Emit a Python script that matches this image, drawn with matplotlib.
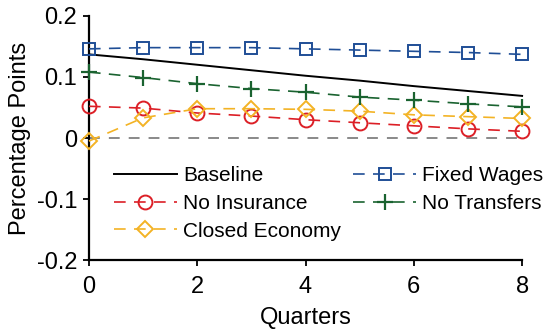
import matplotlib
matplotlib.use("Agg")
import matplotlib.pyplot as plt

plt.rcParams['font.family'] = ['Liberation Sans', 'DejaVu Sans']

quarters = [0, 1, 2, 3, 4, 5, 6, 7, 8]
baseline = [0.137, 0.129, 0.120, 0.111, 0.102, 0.094, 0.085, 0.077, 0.069]
fixed_wages = [0.146, 0.148, 0.148, 0.148, 0.146, 0.144, 0.142, 0.140, 0.137]
no_insurance = [0.052, 0.049, 0.041, 0.036, 0.030, 0.025, 0.020, 0.015, 0.011]
no_transfers = [0.108, 0.099, 0.089, 0.081, 0.075, 0.067, 0.062, 0.056, 0.051]
closed_economy = [-0.005, 0.033, 0.048, 0.048, 0.047, 0.044, 0.038, 0.035, 0.032]

x_ticks = [0, 2, 4, 6, 8]
y_ticks = [-0.2, -0.1, 0, 0.1, 0.2]
y_ticklabels = ['-0.2', '-0.1', '0', '0.1', '0.2']

c_blue = '#1f4e96'
c_red = '#dc1f26'
c_green = '#1a6330'
c_yellow = '#f3b325'

fig = plt.figure(figsize=(5.49, 3.31), dpi=100)
ax = fig.add_axes([0.162, 0.214, 0.789, 0.738])

dash = (0, (7, 5))
lw = 1.2
ax.axhline(0, color='#808080', lw=1.3, ls=(0, (6, 5)), zorder=1)

l1, = ax.plot(quarters, baseline, color='black', lw=1.4, label='Baseline', zorder=3)
l2, = ax.plot(quarters, no_insurance, color=c_red, lw=lw, ls=dash, marker='o', ms=10,
              mfc='none', mec=c_red, mew=1.4, label='No Insurance', zorder=3)
l3, = ax.plot(quarters, closed_economy, color=c_yellow, lw=lw, ls=dash, marker='D', ms=8.5,
              mfc='none', mec=c_yellow, mew=1.4, label='Closed Economy', zorder=3)
l4, = ax.plot(quarters, fixed_wages, color=c_blue, lw=lw, ls=dash, marker='s', ms=8.5,
              mfc='none', mec=c_blue, mew=1.4, label='Fixed Wages', zorder=3)
l5, = ax.plot(quarters, no_transfers, color=c_green, lw=lw, ls=dash, marker='+', ms=11,
              mec=c_green, mew=1.6, label='No Transfers', zorder=3)

ax.set_xlim(0, 8)
ax.set_ylim(-0.2, 0.2)
ax.set_xticks(x_ticks)
ax.set_yticks(y_ticks)
ax.set_yticklabels(y_ticklabels)
ax.tick_params(axis='both', labelsize=17, direction='out', length=4.5, width=1.3,
               colors='black')
ax.tick_params(axis='x', pad=7)
ax.tick_params(axis='y', pad=4)
for s in ['top', 'right']:
    ax.spines[s].set_visible(False)
for s in ['left', 'bottom']:
    ax.spines[s].set_linewidth(1.6)
for l in ax.lines:
    l.set_clip_on(False)

ax.set_xlabel('Quarters', fontsize=17, labelpad=6.5)
ax.set_ylabel('Percentage Points', fontsize=17, labelpad=4)

handles = [l1, l2, l3, l4, l5]
leg = ax.legend(handles, [h.get_label() for h in handles], ncol=2, frameon=False,
                fontsize=15, loc='upper left', bbox_to_anchor=(0.058, 0.385),
                handlelength=3.0, handletextpad=0.3, columnspacing=0.6,
                labelspacing=0.42, borderaxespad=0, borderpad=0)

fig.savefig('out.png', dpi=100)
